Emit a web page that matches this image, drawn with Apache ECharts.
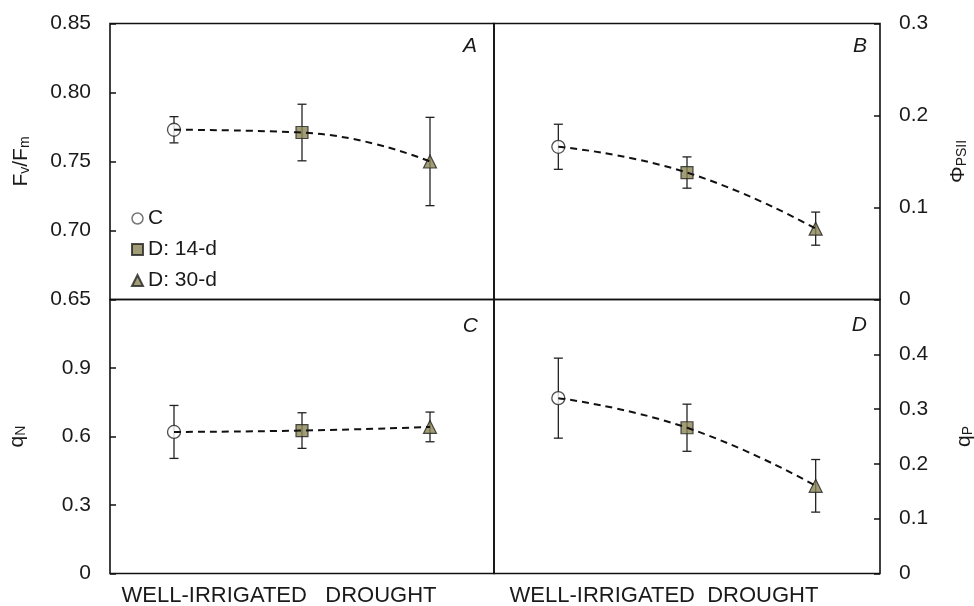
<!DOCTYPE html>
<html><head><meta charset="utf-8">
<script src="https://cdn.jsdelivr.net/npm/echarts@6/dist/echarts.min.js"></script>
<style>html,body{margin:0;padding:0;background:#fff}#c{width:974px;height:606px}</style>
</head><body><div id="c"></div>
<script>
// ---- data ----
const treatments = ['C', 'D: 14-d', 'D: 30-d'];
const panelLetters = ['A', 'B', 'C', 'D'];
const fvfmMean = [0.773, 0.771, 0.750];
const fvfmErr  = [0.0095, 0.0205, 0.032];
const phiMean  = [0.166, 0.138, 0.077];
const phiErr   = [0.0245, 0.017, 0.018];
const qnMean   = [0.620, 0.626, 0.642];
const qnErr    = [0.116, 0.078, 0.065];
const qpMean   = [0.320, 0.266, 0.160];
const qpErr    = [0.073, 0.043, 0.048];
const fvfmTicks = ['0.65', '0.70', '0.75', '0.80', '0.85'];
const phiTicks  = ['0', '0.1', '0.2', '0.3'];
const qnTicks   = ['0', '0.3', '0.6', '0.9'];
const qpTicks   = ['0', '0.1', '0.2', '0.3', '0.4'];
const xGroupLabels = ['WELL-IRRIGATED   DROUGHT', 'WELL-IRRIGATED  DROUGHT'];

// ---- chart ----
const FONT = '"Liberation Sans", Arial, sans-serif';
const INK = '#1a1a1a';
const OLIVE = '#8a8455';

const means = [fvfmMean, phiMean, qnMean, qpMean];
const errs = [fvfmErr, phiErr, qnErr, qpErr];
const tickSets = [fvfmTicks, phiTicks, qnTicks, qpTicks];
const axisRange = [
  {min: 0.65, max: 0.85, interval: 0.05},
  {min: 0, max: 0.3, interval: 0.1},
  {min: 0, max: 1.2, interval: 0.3},
  {min: 0, max: 0.5, interval: 0.1}
];
const names = [
  '{n|F}{s|v}{n|/F}{s|m}',
  '{n|Φ}{s|PSII}',
  '{n|q}{s|N}',
  '{n|q}{s|P}'
];
const nameGaps = [78, 65, 82, 71];
const rich = {
  n: {fontSize: 21, lineHeight: 24, verticalAlign: 'bottom', fontFamily: FONT, color: INK},
  s: {fontSize: 14, lineHeight: 8, verticalAlign: 'bottom', fontFamily: FONT, color: INK}
};

const grids = [
  {left: 110, top: 23.5, width: 384, height: 276},
  {left: 494, top: 23.5, width: 386, height: 276},
  {left: 110, top: 299.5, width: 384, height: 274},
  {left: 494, top: 299.5, width: 386, height: 274}
].map(g => Object.assign(g, {show: true, borderColor: '#111', borderWidth: 1.6,
  backgroundColor: 'transparent', containLabel: false, outerBoundsMode: 'none'}));

const xAxes = grids.map((g, i) => ({
  type: 'category', gridIndex: i, data: treatments, boundaryGap: true,
  axisLine: {show: false}, axisTick: {show: false}, axisLabel: {show: false}, splitLine: {show: false},
  name: i >= 2 ? xGroupLabels[i - 2] : '',
  nameLocation: 'middle', nameGap: 11,
  nameTextStyle: {fontSize: 22, fontFamily: FONT, color: INK, padding: [0, 46, 0, 0]}
}));

const yAxes = grids.map((g, i) => {
  const r = axisRange[i];
  const ticks = tickSets[i];
  return {
    type: 'value', gridIndex: i, min: r.min, max: r.max, interval: r.interval,
    position: (i % 2 === 0) ? 'left' : 'right',
    axisLine: {show: false},
    axisTick: {show: true, inside: true, length: 6, lineStyle: {color: '#111', width: 1.5}},
    splitLine: {show: false},
    axisLabel: {
      fontSize: 21, fontFamily: FONT, color: INK, margin: 19,
      formatter: v => {
        const k = Math.round((v - r.min) / r.interval);
        return k < ticks.length ? ticks[k] : '';
      }
    },
    name: names[i], nameLocation: 'middle', nameRotate: 90, nameGap: nameGaps[i],
    nameTextStyle: {rich: rich, fontFamily: FONT}
  };
});

const markerStyles = [
  {symbol: 'circle', symbolSize: 13, itemStyle: {color: '#fff', borderColor: '#222', borderWidth: 1.3}},
  {symbol: 'rect', symbolSize: 12, itemStyle: {color: OLIVE, borderColor: '#222', borderWidth: 1.2}},
  {symbol: 'triangle', symbolSize: 13, itemStyle: {color: OLIVE, borderColor: '#222', borderWidth: 1.2}}
];

const series = [];
for (let p = 0; p < 4; p++) {
  // error bars
  series.push({
    type: 'custom', xAxisIndex: p, yAxisIndex: p, z: 2, silent: true,
    data: means[p].map((m, i) => [i, m, errs[p][i]]),
    encode: {x: 0, y: 1},
    renderItem: (params, api) => {
      const x = api.value(0), m = api.value(1), e = api.value(2);
      const t = api.coord([x, m + e]);
      const b = api.coord([x, m - e]);
      const hw = 4.5;
      const st = {stroke: '#222', lineWidth: 1.3};
      return {type: 'group', children: [
        {type: 'line', shape: {x1: t[0], y1: t[1], x2: b[0], y2: b[1]}, style: st},
        {type: 'line', shape: {x1: t[0] - hw, y1: t[1], x2: t[0] + hw, y2: t[1]}, style: st},
        {type: 'line', shape: {x1: b[0] - hw, y1: b[1], x2: b[0] + hw, y2: b[1]}, style: st}
      ]};
    }
  });
  // markers
  treatments.forEach((name, i) => {
    series.push(Object.assign({
      type: 'scatter', name: name, xAxisIndex: p, yAxisIndex: p, z: 3,
      data: [[i, means[p][i]]]
    }, markerStyles[i]));
  });
  // trend line
  series.push({
    type: 'line', xAxisIndex: p, yAxisIndex: p, z: 4, silent: true,
    data: means[p], smooth: 0.5, symbol: 'none',
    lineStyle: {color: '#111', width: 2, type: [7, 5]}
  });
}

const letterPos = [[477, 46], [867, 46], [478, 326], [867, 325]];
const graphic = panelLetters.map((L, i) => ({
  type: 'text', x: letterPos[i][0], y: letterPos[i][1],
  style: {text: L, fontSize: 21, fontStyle: 'italic', fontFamily: FONT, fill: INK,
          align: 'right', verticalAlign: 'middle'}
}));

const option = {
  animation: false,
  backgroundColor: '#fff',
  grid: grids,
  xAxis: xAxes,
  yAxis: yAxes,
  legend: {
    orient: 'vertical', left: 126, top: 203, itemWidth: 11, itemHeight: 11, itemGap: 10,
    selectedMode: false,
    textStyle: {fontSize: 21, lineHeight: 20, color: INK, fontFamily: FONT},
    data: [
      {name: 'C', icon: 'circle', itemStyle: {color: '#fff', borderColor: '#555', borderWidth: 1.5}},
      {name: 'D: 14-d', icon: 'rect'},
      {name: 'D: 30-d', icon: 'triangle'}
    ]
  },
  graphic: graphic,
  series: series
};

const chart = echarts.init(document.getElementById('c'), null, {renderer: 'canvas'});
chart.setOption(option);
</script>
</body></html>
